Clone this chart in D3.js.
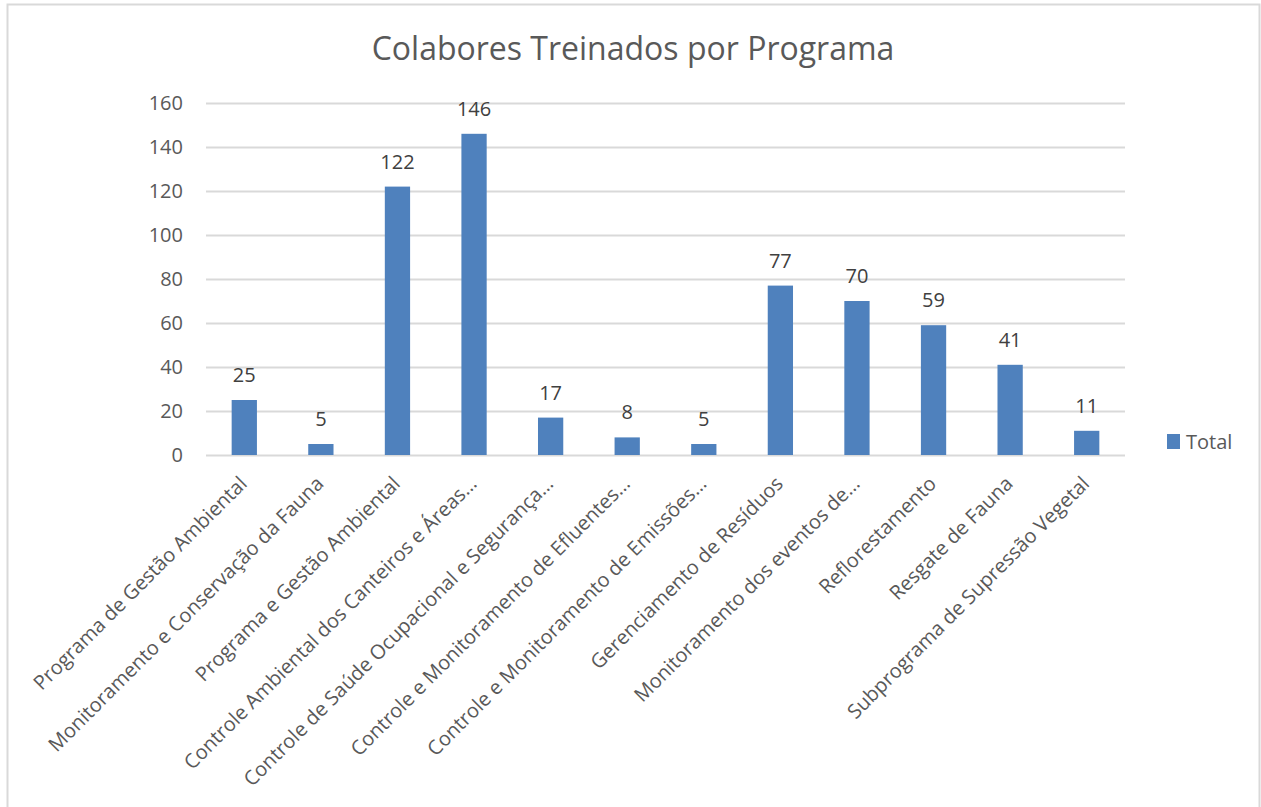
<!DOCTYPE html>
<html>
<head>
<meta charset="utf-8">
<script src="https://cdn.jsdelivr.net/npm/d3@7"></script>
<style>
  body { margin: 0; background: #fff; }
  text { font-family: "Open Sans", sans-serif; }
</style>
</head>
<body>
<div id="chart"></div>
<script>
var categories = [
  "Programa de Gestão Ambiental",
  "Monitoramento e Conservação da Fauna",
  "Programa e Gestão Ambiental",
  "Controle Ambiental dos Canteiros e Áreas…",
  "Controle de Saúde Ocupacional e Segurança…",
  "Controle e Monitoramento de Efluentes…",
  "Controle e Monitoramento de Emissões…",
  "Gerenciamento de Resíduos",
  "Monitoramento dos eventos de…",
  "Reflorestamento",
  "Resgate de Fauna",
  "Subprograma de Supressão Vegetal"
];
var totals = [25, 5, 122, 146, 17, 8, 5, 77, 70, 59, 41, 11];
var yTicks = [0, 20, 40, 60, 80, 100, 120, 140, 160];
var chartTitle = "Colabores Treinados por Programa";
var seriesName = "Total";

var W = 1261, H = 807;
var margin = {top: 103, right: 136, bottom: 352, left: 206},
    width = W - margin.left - margin.right,
    height = H - margin.top - margin.bottom;

var svg = d3.select("#chart").append("svg")
    .attr("width", W)
    .attr("height", H);

// chart border
svg.append("rect")
    .attr("x", 7.5).attr("y", 4.5)
    .attr("width", W - 9).attr("height", H)
    .attr("fill", "#fff")
    .attr("stroke", "#d9d9d9")
    .attr("stroke-width", 2);

svg.append("text")
    .attr("x", 633).attr("y", 60)
    .attr("text-anchor", "middle")
    .attr("font-size", "32px")
    .attr("fill", "#595959")
    .text(chartTitle);

var g = svg.append("g")
    .attr("transform", "translate(" + margin.left + "," + margin.top + ")");

var x = d3.scaleBand()
    .domain(categories)
    .range([0, width])
    .paddingInner(0.67)
    .paddingOuter(0.335);

var y = d3.scaleLinear()
    .domain([0, 160])
    .range([height, 0]);

// gridlines
g.append("g")
    .selectAll("line")
    .data(yTicks)
    .enter().append("line")
    .attr("x1", 0).attr("x2", width)
    .attr("y1", function(d) { return Math.round(y(d)) + 0.5; })
    .attr("y2", function(d) { return Math.round(y(d)) + 0.5; })
    .attr("stroke", "#d9d9d9")
    .attr("stroke-width", 2);

// y axis labels
var yAxis = d3.axisLeft(y).tickValues(yTicks).tickSize(0).tickPadding(23);
g.append("g")
    .attr("class", "y axis")
    .call(yAxis)
    .call(function(s) { s.select(".domain").remove(); })
    .selectAll("text")
    .attr("font-size", "20px")
    .attr("fill", "#595959")
    .style("font-family", "'Open Sans', sans-serif");

// bars
g.append("g")
    .selectAll("rect")
    .data(totals)
    .enter().append("rect")
    .attr("x", function(d, i) { return x(categories[i]); })
    .attr("y", function(d) { return y(d); })
    .attr("width", x.bandwidth())
    .attr("height", function(d) { return y(0) - y(d); })
    .attr("fill", "#4f81bd");

// value labels
g.append("g")
    .selectAll("text")
    .data(totals)
    .enter().append("text")
    .attr("x", function(d, i) { return x(categories[i]) + x.bandwidth() / 2; })
    .attr("y", function(d) { return y(d) - 18; })
    .attr("text-anchor", "middle")
    .attr("font-size", "20px")
    .attr("fill", "#404040")
    .text(function(d) { return d; });

// category labels, rotated
var xAxis = d3.axisBottom(x).tickSize(0).tickPadding(0);
g.append("g")
    .attr("class", "x axis")
    .attr("transform", "translate(0," + height + ")")
    .call(xAxis)
    .call(function(s) { s.select(".domain").remove(); })
    .selectAll("text")
    .attr("font-size", "20px")
    .attr("fill", "#595959")
    .style("font-family", "'Open Sans', sans-serif")
    .attr("text-anchor", "end")
    .attr("dy", "0.35em")
    .attr("transform", "translate(-1,25) rotate(-45)");

// legend
var legend = svg.append("g")
    .attr("transform", "translate(1167,434)");
legend.append("rect")
    .attr("width", 13).attr("height", 15)
    .attr("fill", "#4f81bd");
legend.append("text")
    .attr("x", 19).attr("y", 15)
    .attr("font-size", "20px")
    .attr("fill", "#595959")
    .text(seriesName);
</script>
</body>
</html>
